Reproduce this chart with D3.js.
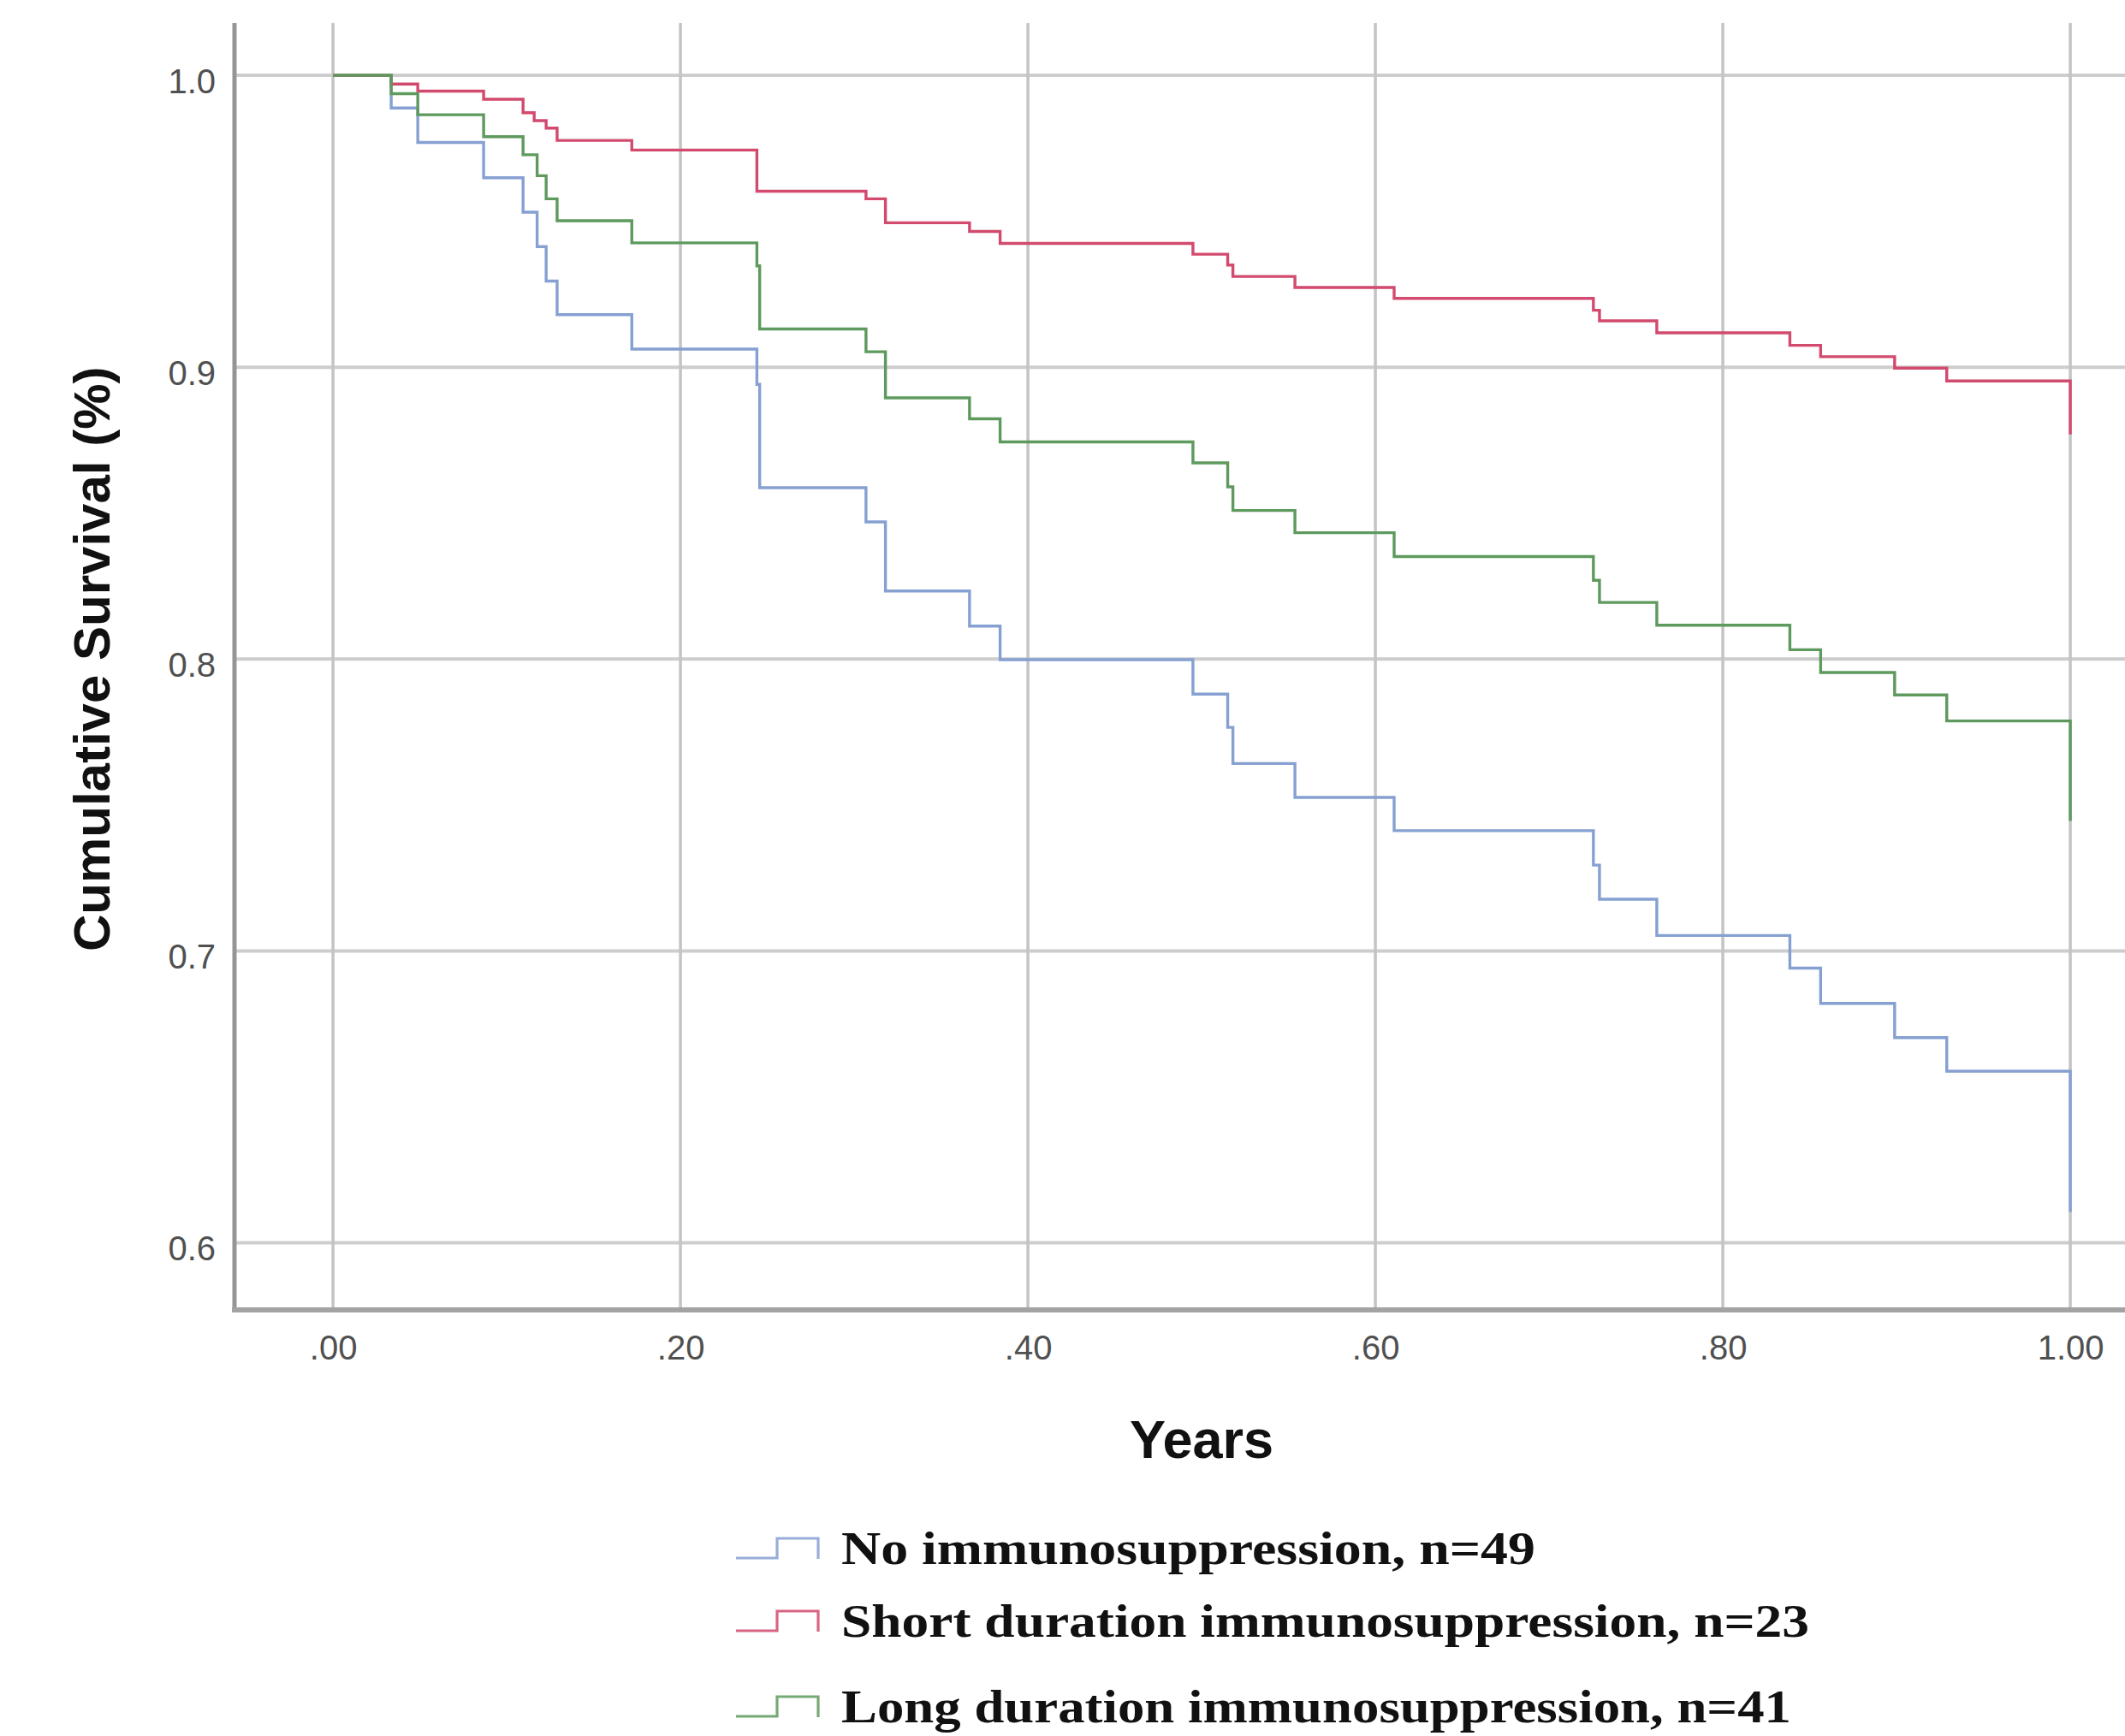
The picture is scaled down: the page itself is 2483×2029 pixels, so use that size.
<!DOCTYPE html>
<html>
<head>
<meta charset="utf-8">
<script src="https://cdn.jsdelivr.net/npm/d3@7"></script>
<style>
  html, body { margin: 0; padding: 0; background: #ffffff; }
  svg { display: block; }
</style>
</head>
<body>
<div id="chart"></div>
<script>
// ---------------- data ----------------
const seriesNames = [
  "No immunosuppression, n=49",
  "Short duration immunosuppression, n=23",
  "Long duration immunosuppression, n=41"
];
const seriesColors = ["#86a0d2", "#d24a6e", "#5e9a5e"];

// event times (years) and survival after each event
const timesNo = [0.0335, 0.0488, 0.0867, 0.1094, 0.1175, 0.1227, 0.129, 0.172, 0.244, 0.2456, 0.3068, 0.318, 0.3664, 0.384, 0.495, 0.515, 0.518, 0.5537, 0.6108, 0.7255, 0.729, 0.762, 0.8386, 0.8563, 0.8989, 0.9289, 1.0];
const survNo  = [0.9888, 0.977, 0.9649, 0.9531, 0.9413, 0.9295, 0.918, 0.9062, 0.8941, 0.8587, 0.847, 0.8233, 0.8113, 0.7998, 0.788, 0.7766, 0.7642, 0.7526, 0.7412, 0.7294, 0.7177, 0.7053, 0.6941, 0.682, 0.6703, 0.6588, 0.6106];

const timesShort = [0.0335, 0.0488, 0.0867, 0.1094, 0.1158, 0.1227, 0.129, 0.172, 0.244, 0.3068, 0.318, 0.3664, 0.384, 0.495, 0.515, 0.518, 0.5537, 0.6108, 0.7255, 0.729, 0.762, 0.8386, 0.8563, 0.8989, 0.9289, 1.0];
const survShort  = [0.997, 0.9946, 0.9918, 0.9872, 0.9845, 0.9819, 0.9777, 0.9744, 0.9603, 0.9577, 0.9495, 0.9465, 0.9424, 0.9387, 0.935, 0.9311, 0.9273, 0.9236, 0.9195, 0.9159, 0.9118, 0.9075, 0.9036, 0.8997, 0.8953, 0.877];

const timesLong = [0.0335, 0.0488, 0.0867, 0.1094, 0.1175, 0.1227, 0.129, 0.172, 0.244, 0.2456, 0.3068, 0.318, 0.3664, 0.384, 0.495, 0.515, 0.518, 0.5537, 0.6108, 0.7255, 0.729, 0.762, 0.8386, 0.8563, 0.8989, 0.9289, 1.0];
const survLong  = [0.9937, 0.9865, 0.979, 0.9728, 0.9656, 0.9577, 0.9502, 0.9426, 0.9347, 0.9131, 0.9053, 0.8895, 0.8823, 0.8744, 0.8672, 0.859, 0.8509, 0.8433, 0.8351, 0.827, 0.8194, 0.8116, 0.8032, 0.7954, 0.7877, 0.7788, 0.7445];

const xTickValues = [0, 0.2, 0.4, 0.6, 0.8, 1.0];
const xTickLabels = [".00", ".20", ".40", ".60", ".80", "1.00"];
const yTickValues = [1.0, 0.9, 0.8, 0.7, 0.6];
const yTickLabels = ["1.0", "0.9", "0.8", "0.7", "0.6"];

const xTitle = "Years";
const yTitle = "Cumulative Survival (%)";

// ---------------- layout ----------------
const W = 2483, H = 2029;
const plot = { left: 274, right: 2483, top: 27, bottom: 1531 };
const xDomain = [-0.0567, 1.0315];
const yDomain = [0.577, 1.0179];

const sansFont = "'Liberation Sans', Arial, Helvetica, sans-serif";
const serifFont = "'Liberation Serif', 'Times New Roman', serif";

const svg = d3.select("#chart").append("svg")
  .attr("width", W).attr("height", H)
  .attr("viewBox", `0 0 ${W} ${H}`);

svg.append("rect").attr("width", W).attr("height", H).attr("fill", "#ffffff");

const x = d3.scaleLinear().domain(xDomain).range([plot.left, plot.right]);
const y = d3.scaleLinear().domain(yDomain).range([plot.bottom, plot.top]);

// grid lines
const grid = svg.append("g").attr("class", "grid");
grid.selectAll("line.h").data(yTickValues).join("line")
  .attr("class", "h")
  .attr("x1", plot.left).attr("x2", plot.right)
  .attr("y1", d => y(d)).attr("y2", d => y(d))
  .attr("stroke", "#cdcdcd").attr("stroke-width", 4);
grid.selectAll("line.v").data(xTickValues).join("line")
  .attr("class", "v")
  .attr("x1", d => x(d)).attr("x2", d => x(d))
  .attr("y1", plot.top).attr("y2", plot.bottom)
  .attr("stroke", "#c4c4c4").attr("stroke-width", 3.5);

// axes (labels)
const xAxis = d3.axisBottom(x)
  .tickValues(xTickValues)
  .tickFormat((d, i) => xTickLabels[i])
  .tickSize(0).tickPadding(30);
const gx = svg.append("g").attr("transform", `translate(0,${plot.bottom})`).call(xAxis);
gx.select(".domain").remove();
gx.selectAll("text")
  .attr("font-family", sansFont).attr("font-size", 40).attr("fill", "#505050");

const yAxis = d3.axisLeft(y)
  .tickValues(yTickValues)
  .tickFormat((d, i) => yTickLabels[i])
  .tickSize(0).tickPadding(22);
const gy = svg.append("g").attr("transform", `translate(${plot.left},0)`).call(yAxis);
gy.select(".domain").remove();
gy.selectAll("text")
  .attr("dy", "0.5em")
  .attr("font-family", sansFont).attr("font-size", 40).attr("fill", "#505050");

// axis lines
svg.append("line")
  .attr("x1", plot.left).attr("x2", plot.left)
  .attr("y1", plot.top).attr("y2", plot.bottom + 3)
  .attr("stroke", "#959595").attr("stroke-width", 5);
svg.append("line")
  .attr("x1", plot.left - 3).attr("x2", plot.right)
  .attr("y1", plot.bottom).attr("y2", plot.bottom)
  .attr("stroke", "#a3a3a3").attr("stroke-width", 6);

// survival curves
const series = [
  { name: seriesNames[0], color: seriesColors[0], t: timesNo, s: survNo },
  { name: seriesNames[1], color: seriesColors[1], t: timesShort, s: survShort },
  { name: seriesNames[2], color: seriesColors[2], t: timesLong, s: survLong }
];

const line = d3.line()
  .x(d => x(d[0])).y(d => y(d[1]))
  .curve(d3.curveStepAfter);

svg.append("g").selectAll("path").data(series).join("path")
  .attr("d", d => line([[0, 1]].concat(d.t.map((t, i) => [t, d.s[i]]))))
  .attr("fill", "none")
  .attr("stroke", d => d.color)
  .attr("stroke-width", 3.4)
  .attr("stroke-linejoin", "miter");

// axis titles
svg.append("text")
  .attr("x", x(0.5)).attr("y", 1704)
  .attr("text-anchor", "middle")
  .attr("font-family", sansFont).attr("font-weight", "bold")
  .attr("font-size", 63).attr("fill", "#111")
  .text(xTitle);

svg.append("text")
  .attr("transform", `translate(128,${y(0.8)}) rotate(-90)`)
  .attr("text-anchor", "middle")
  .attr("font-family", sansFont).attr("font-weight", "bold")
  .attr("font-size", 60).attr("fill", "#111")
  .text(yTitle);

// legend
const legendBaselines = [1828, 1913, 2013];
const legendWidths = [811, 1131, 1110];
const legendTextX = 983;
const symX0 = 860, symXm = 908, symX1 = 956;

const lg = svg.append("g").attr("class", "legend");
series.forEach((d, i) => {
  const b = legendBaselines[i];
  lg.append("path")
    .attr("d", `M${symX0},${b - 7}H${symXm}V${b - 30}H${symX1}V${b - 6}`)
    .attr("fill", "none")
    .attr("stroke", d.color)
    .attr("stroke-width", 3.2)
    .attr("opacity", 0.85);
  lg.append("text")
    .attr("x", legendTextX).attr("y", b)
    .attr("font-family", serifFont).attr("font-weight", "bold")
    .attr("font-size", 54).attr("fill", "#111")
    .attr("textLength", legendWidths[i])
    .attr("lengthAdjust", "spacingAndGlyphs")
    .text(d.name);
});
</script>
</body>
</html>
